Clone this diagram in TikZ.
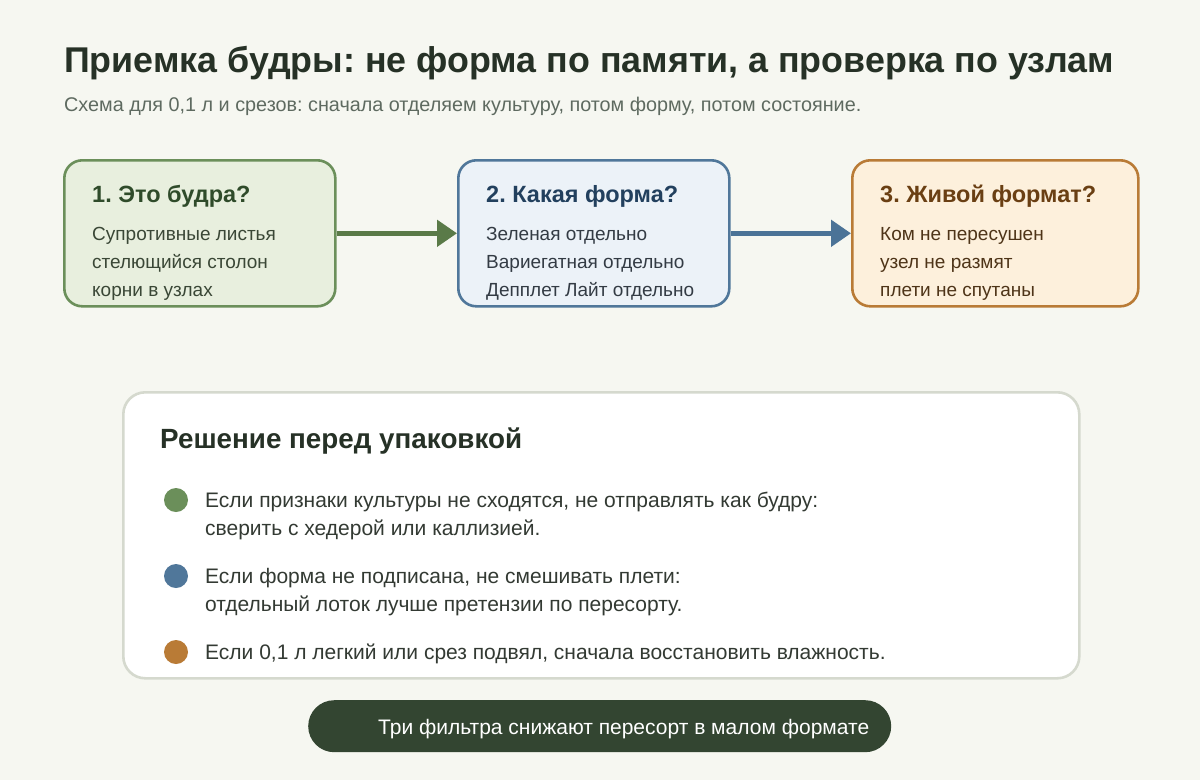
\documentclass[tikz,border=0pt]{standalone}
\usepackage{fontspec}
\setmainfont{Liberation Sans}
\usepackage{xcolor}
\usetikzlibrary{arrows.meta, positioning}
\frenchspacing
\definecolor{pagebg}{HTML}{F6F7F1}
\definecolor{inkdark}{HTML}{263126}
\definecolor{subgray}{HTML}{5E6A60}
\definecolor{bodyink}{HTML}{333A33}
\definecolor{greenline}{HTML}{6B8F5A}
\definecolor{greenfill}{HTML}{E8EFDE}
\definecolor{greenhead}{HTML}{2F4B2A}
\definecolor{greenbody}{HTML}{3A4736}
\definecolor{arrowgreen}{HTML}{5A7A48}
\definecolor{blueline}{HTML}{50779A}
\definecolor{bluefill}{HTML}{ECF2F8}
\definecolor{bluehead}{HTML}{22405E}
\definecolor{bluebody}{HTML}{333B44}
\definecolor{arrowblue}{HTML}{4B7397}
\definecolor{orangeline}{HTML}{B97B36}
\definecolor{orangefill}{HTML}{FDF0DC}
\definecolor{orangehead}{HTML}{6A3F13}
\definecolor{orangebody}{HTML}{4E3418}
\definecolor{panelline}{HTML}{D5D9CE}
\definecolor{pillfill}{HTML}{334531}

\begin{document}
\begin{tikzpicture}[x=1pt, y=-1pt,
    stagebox/.style={draw, line width=2.6pt, rounded corners=18pt, anchor=north west,
        minimum height=146pt, inner sep=0pt},
    stagehead/.style={anchor=base west, inner sep=0pt, font=\fontsize{23.5}{26}\selectfont\bfseries},
    stageline/.style={anchor=base west, inner sep=0pt, font=\fontsize{19}{22}\selectfont},
    flow/.style={line width=5pt, -{Triangle[length=20pt, width=26pt]}},
    dot/.style={circle, minimum size=24pt, inner sep=0pt},
    noteline/.style={anchor=base west, inner sep=0pt, text=bodyink, font=\fontsize{21}{24}\selectfont}]
    % Background
    \fill[pagebg] (0,0) rectangle (1200,780);
    \useasboundingbox (0,0) rectangle (1200,780);

    % Title
    \node[anchor=base west, inner sep=0pt, text=inkdark, font=\fontsize{35.8}{40}\selectfont\bfseries]
        (title) at (64,72) {Приемка будры: не форма по памяти, а проверка по узлам};
    \node[anchor=base west, inner sep=0pt, text=subgray, font=\fontsize{19.8}{22}\selectfont]
        (subtitle) at (64,111) {Схема для 0,1 л и срезов: сначала отделяем культуру, потом форму, потом состояние.};

    % Three stages
    \node[stagebox, greenline, fill=greenfill, minimum width=271pt] (b1) at (63,159) {};
    \node[stagebox, blueline, fill=bluefill, minimum width=271pt] (b2) at (457,159) {};
    \node[stagebox, orangeline, fill=orangefill, minimum width=286pt] (b3) at (851,159) {};

    \node[stagehead, text=greenhead] (h1) at (92,202) {1. Это будра?};
    \node[stagehead, text=bluehead] (h2) at (486,202) {2. Какая форма?};
    \node[stagehead, text=orangehead] (h3) at (880,202) {3. Живой формат?};

    \foreach \txt [count=\i] in {Супротивные листья, стелющийся столон, корни в узлах}
        \node[stageline, text=greenbody] (l1\i) at (92,212.7+28*\i) {\txt};
    \foreach \txt [count=\i] in {Зеленая отдельно, Вариегатная отдельно, Депплет Лайт отдельно}
        \node[stageline, text=bluebody] (l2\i) at (486,212.7+28*\i) {\txt};
    \foreach \txt [count=\i] in {Ком не пересушен, узел не размят, плети не спутаны}
        \node[stageline, text=orangebody] (l3\i) at (880,212.7+28*\i) {\txt};

    % Arrows between stages
    \draw[flow, arrowgreen] (b1) -- (b2);
    \draw[flow, arrowblue] (b2) -- (b3);

    % Decision panel
    \node[draw=panelline, fill=white, line width=2.6pt, rounded corners=22pt, anchor=north west,
        minimum width=956pt, minimum height=286pt, inner sep=0pt] (panel) at (122,391) {};
    \node[anchor=base west, inner sep=0pt, text=inkdark, font=\fontsize{27.8}{30}\selectfont\bfseries]
        (ptitle) at (160,448) {Решение перед упаковкой};

    \node[dot, fill=greenline] (d1) at (176,500) {};
    \node[dot, fill=blueline] (d2) at (176,576) {};
    \node[dot, fill=orangeline] (d3) at (176,652) {};

    \node[noteline] (n1a) at (205,507) {Если признаки культуры не сходятся, не отправлять как будру:};
    \node[noteline] (n1b) at (205,535) {сверить с хедерой или каллизией.};
    \node[noteline] (n2a) at (205,583) {Если форма не подписана, не смешивать плети:};
    \node[noteline] (n2b) at (205,611) {отдельный лоток лучше претензии по пересорту.};
    \node[noteline] (n3a) at (205,659) {Если 0,1 л легкий или срез подвял, сначала восстановить влажность.};

    % Summary pill
    \node[fill=pillfill, rounded corners=26pt, anchor=north west, minimum width=583pt,
        minimum height=52pt, inner sep=0pt] (pill) at (308,700) {};
    \node[anchor=base west, inner sep=0pt, text=white, font=\fontsize{21}{24}\selectfont]
        (pilltext) at (378,734) {Три фильтра снижают пересорт в малом формате};
\end{tikzpicture}
\end{document}
